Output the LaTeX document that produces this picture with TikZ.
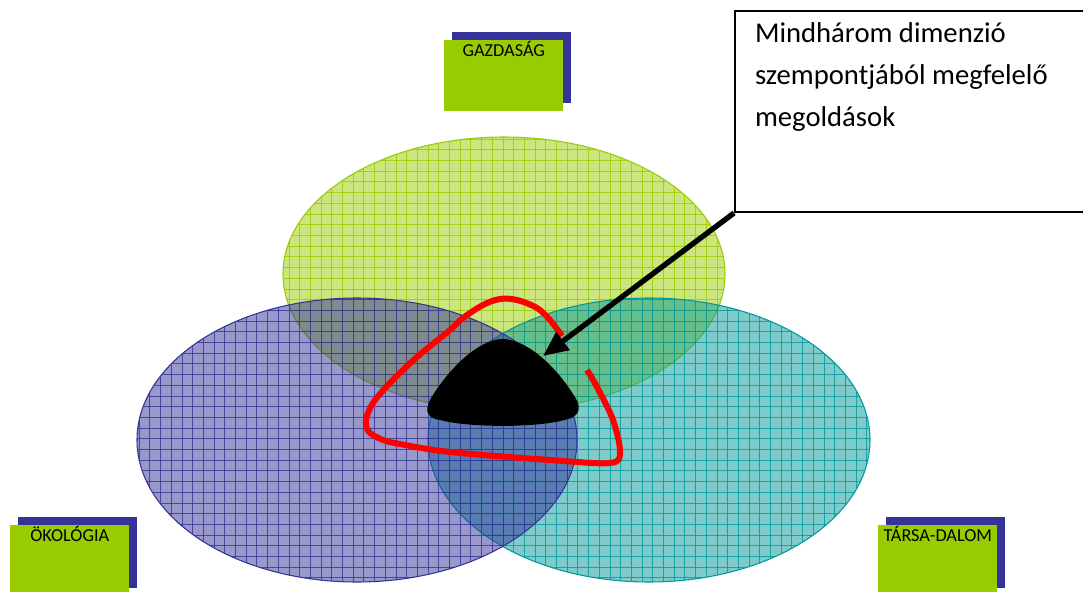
\documentclass[tikz,border=0pt]{standalone}
\usepackage{fontspec}
\setmainfont{Carlito}
\usetikzlibrary{arrows.meta,shadows}
\definecolor{Lime}{HTML}{99CC00}
\definecolor{Indigo}{HTML}{333399}
\definecolor{Teal}{HTML}{009999}
\definecolor{Signal}{HTML}{FF0000}

\begin{document}
\begin{tikzpicture}[
  x=0.75pt,y=-0.75pt,
  tag/.style={fill=Lime,anchor=north west,minimum width=89.25pt,
    text height=10pt,text depth=38pt,inner ysep=2.5pt,inner xsep=0pt,
    font=\fontsize{13.7}{16}\selectfont,
    copy shadow={shadow xshift=6pt,shadow yshift=6pt,fill=Indigo,draw=none}},
  note/.style={draw=black,line width=1.5pt,anchor=north west,
    inner xsep=15pt,inner ysep=8.5pt,font=\fontsize{21.5}{31.5}\selectfont},
  pointer/.style={-{Triangle[length=18.75pt,width=16pt]},line width=4pt,color=black},
  loopline/.style={line width=4.5pt,color=Signal}
]
\useasboundingbox (0,0) rectangle (1083,592);
\fill[white] (0,0) rectangle (1083,592);

% Three dimensions: half transparent, with a grid fill.
\foreach \cx/\cy/\rx/\ry/\col in {504/274/221/137/Lime,649/440/221/142/Teal,357/440/220/142/Indigo}{
  \begin{scope}
    \clip (\cx,\cy) ellipse [x radius=\rx,y radius=\ry];
    \fill[fill=\col,fill opacity=0.5] (\cx,\cy) ellipse [x radius=\rx,y radius=\ry];
    \foreach \gx in {0,10.7,...,1083}
      \draw[\col,draw opacity=0.8,line width=0.6pt] (\gx,{\cy-\ry}) -- (\gx,{\cy+\ry});
    \foreach \gy in {0,10.7,...,592}
      \draw[\col,draw opacity=0.8,line width=0.6pt] ({\cx-\rx},\gy) -- ({\cx+\rx},\gy);
  \end{scope}
  \draw[\col,line width=0.8pt] (\cx,\cy) ellipse [x radius=\rx,y radius=\ry];
}

% Common core of the three.
\fill[black] (502,339) .. controls (478,340) and (450,368) .. (433,395)
  .. controls (424,408) and (425,418) .. (440,420)
  .. controls (470,428) and (540,428) .. (568,419)
  .. controls (582,415) and (581,405) .. (573,394)
  .. controls (556,367) and (527,339) .. (502,339) -- cycle;

\draw[loopline] plot[smooth,tension=0.55] coordinates {
  (562,336) (550,320) (537,308) (517,300) (500,299) (483,305) (463,318)
  (450,330) (417,357) (390,383) (373,403) (366,420) (369,432) (383,440)
  (400,444) (450,452) (550,460) (610,463) (620,452) (613,420) (597,387) (587,370)};

% Labels.
\node[tag] (gazdasag) at (444,40) {GAZDASÁG};
\node[tag] (okologia) at (10,525) {ÖKOLÓGIA};
\node[tag] (tarsadalom) at (878,525) {TÁRSA-DALOM};

\node[note] (remark) at (734,10) {\parbox[t][133.75pt][t]{300pt}{Mindhárom dimenzió\\szempontjából megfelelő\\megoldások}};

\coordinate (tip) at (543,356);
\draw[pointer] (remark.south west) -- (tip);
\end{tikzpicture}
\end{document}
